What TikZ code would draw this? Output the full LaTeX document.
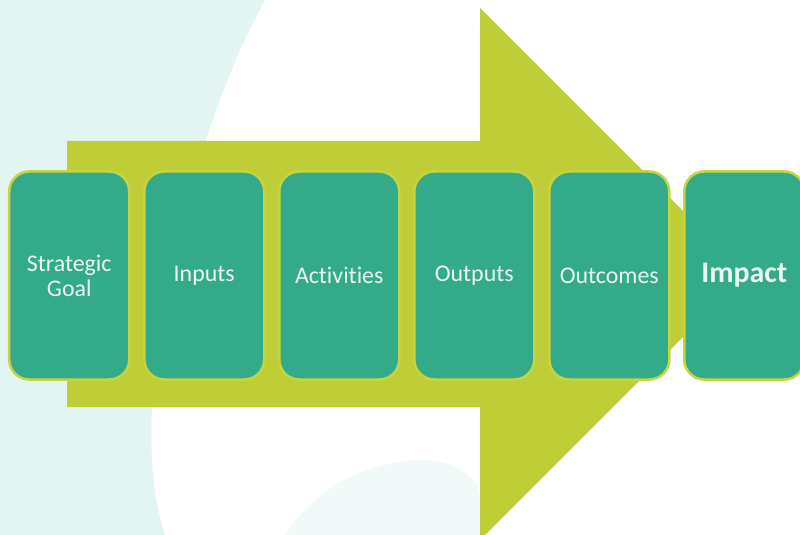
\documentclass[tikz,border=0pt]{standalone}
\usepackage{fontspec}
\setmainfont{Carlito}[Ligatures=NoCommon]
\usepackage{tikz}
\usetikzlibrary{positioning}

\definecolor{bgteal}{HTML}{E3F5F3}
\definecolor{bgblob}{HTML}{F1F9F9}
\definecolor{arrowgreen}{HTML}{BFCD37}
\definecolor{boxteal}{HTML}{33AA8A}
\definecolor{boxrim}{HTML}{C6D53F}
\definecolor{boxtext}{HTML}{EAF6F0}

\begin{document}
\begin{tikzpicture}[
    x=1bp, y=-1bp,
    node distance = 12.5bp,
    stage/.style={rectangle, draw=boxrim, line width=2.5bp,
                  fill=boxteal, rounded corners=20bp, align=center,
                  text=boxtext, inner sep=2bp,
                  minimum width=120bp, minimum height=208bp,
                  font=\fontsize{24}{25}\selectfont},
    final/.style={stage, font=\fontsize{30}{32}\selectfont\bfseries}
]
\useasboundingbox (0,0) rectangle (800,535);

%–––– BACKGROUND –––––––––––––––––––––––––––––––––––
\begin{scope}
  \clip (0,0) rectangle (800,535);
  \fill[bgteal] (0,0) -- (265,0) .. controls (195,125) and (120,400) .. (165,535)
                -- (0,535) -- cycle;
  \fill[bgblob] (285,535) .. controls (320,480) and (380,460) .. (420,460)
                .. controls (460,460) and (480,480) .. (480,500) -- (480,535) -- cycle;
\end{scope}

%–––– BIG ARROW ––––––––––––––––––––––––––––––––––––
\fill[arrowgreen] (67,141) -- (480,141) -- (480,8) -- (746,274)
                  -- (480,540) -- (480,407) -- (67,407) -- cycle;

%–––– STAGES –––––––––––––––––––––––––––––––––––––––
\node (goal)       [stage] at (69.25,275.5) {Strategic\\Goal};
\node (inputs)     [stage, right=of goal]   {Inputs};
\node (activities) [stage, right=of inputs] {Activities};
\node (outputs)    [stage, right=of activities] {Outputs};
\node (outcomes)   [stage, right=of outputs]    {Outcomes};
\node (impact)     [final, right=of outcomes]   {Impact};

\end{tikzpicture}
\end{document}
